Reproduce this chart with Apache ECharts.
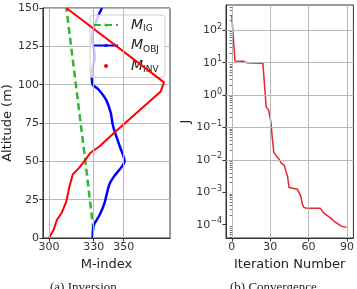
<!DOCTYPE html>
<html>
<head>
<meta charset="utf-8">
<script src="https://cdn.jsdelivr.net/npm/echarts@6/dist/echarts.min.js"></script>
<style>
html, body { margin: 0; padding: 0; background: #fff; }
#main { width: 357px; height: 289px; }
</style>
</head>
<body>
<div id="main"></div>
<script>
// (a) inversion: altitude (m) against M-index
var igAlt = [5, 50, 150];
var igM = [329.8, 324.4, 311.7];

var objAlt = [0, 7.6, 15.2, 22.8, 34.8, 40.2, 46.7, 50, 58.7, 70.6, 75, 81.5, 90.2, 97.2, 100, 105.4, 111.9, 117.4, 122.8, 129.4, 135.9, 144.6, 150];
var objM = [329.3, 329.8, 334, 337.2, 340.4, 343.6, 348.9, 350.6, 347.8, 343.6, 342.5, 341.4, 338.2, 332.9, 329.3, 328.7, 329.3, 330.8, 330.2, 328.7, 329.8, 332.9, 335.5];

var invAlt = [0, 5.4, 11.9, 16.3, 23.9, 33.7, 41.3, 45.7, 51.1, 55.4, 59.8, 68.5, 95.6, 101.5, 150];
var invM = [300, 303.2, 305.4, 308.5, 311.7, 313.8, 315.9, 320.2, 324.5, 327.6, 334, 343.5, 374.8, 377, 311.7];

var mTicks = [300, 330, 350];

// (b) convergence: cost J per iteration
var iterNo = [0, 2.5, 8.9, 11.5, 17, 24.3, 25.2, 26.9, 28.7, 30.3, 30.8, 31.6, 32.2, 32.8, 34.6, 36.6, 38.5, 41, 42.3, 43.5, 44.8, 45.6, 51.2, 52.5, 53.8, 55.1, 56.4, 58.9, 69.2, 70.5, 71.8, 73.1, 76.9, 79.5, 83.3, 85.8, 89.7];
var costJ = [290, 11.2, 11, 10, 9.7, 9.5, 9.8, 0.43, 0.35, 0.17, 0.12, 0.05, 0.03, 0.017, 0.0135, 0.011, 0.0081, 0.0068, 0.0045, 0.0032, 0.0014, 0.00125, 0.00125, 0.0011, 0.00078, 0.00043, 0.00034, 0.00032, 0.00032, 0.0003, 0.00023, 0.0002, 0.000166, 0.000132, 0.000105, 0.000089, 0.000083];

var iterTicks = [0, 30, 60, 90];
var jTicks = [1e-4, 1e-3, 1e-2, 1e-1, 1, 10, 100];

var jMinor = [];
for (var d = -5; d <= 2; d++) {
  for (var k = 2; k <= 9; k++) {
    var v = k * Math.pow(10, d);
    if (v > 3.9e-5 && v < 600) jMinor.push(v);
  }
}

function zip(xs, ys) {
  return xs.map(function (x, i) { return [x, ys[i]]; });
}

var font = 'DejaVu Sans';
var ink = '#333';
var gridColor = '#b8b8b8';

function gridLines(list) {
  return {
    symbol: 'none', silent: true, animation: false,
    label: { show: false },
    emphasis: { disabled: true },
    lineStyle: { color: gridColor, width: 1, type: 'solid' },
    data: list
  };
}

var axisBase = {
  axisLine: { show: true, onZero: false, lineStyle: { color: ink, width: 1 } },
  axisTick: { show: true, inside: false, length: 3.5, lineStyle: { color: ink } },
  axisLabel: { color: ink, fontSize: 11, fontFamily: font, margin: 4 },
  nameTextStyle: { color: '#222', fontSize: 13, fontFamily: font }
};

function axis(extra) {
  var a = JSON.parse(JSON.stringify(axisBase));
  for (var key in extra) {
    if (typeof extra[key] === 'object' && a[key] && !Array.isArray(extra[key])) {
      for (var k2 in extra[key]) a[key][k2] = extra[key][k2];
    } else {
      a[key] = extra[key];
    }
  }
  return a;
}

var chart = echarts.init(document.getElementById('main'));

var option = {
  animation: false,
  backgroundColor: '#fff',
  grid: [
    { left: 37, top: 8, width: 133, height: 230, show: true, borderColor: ink, borderWidth: 1 },
    { left: 226, top: 5, width: 128, height: 233, show: true, borderColor: ink, borderWidth: 1 }
  ],
  xAxis: [
    axis({
      gridIndex: 0, type: 'value', min: 296, max: 381,
      name: 'M-index', nameLocation: 'middle', nameGap: 12,
      axisLabel: { customValues: mTicks },
      axisTick: { customValues: mTicks },
      splitLine: { show: false }
    }),
    axis({
      gridIndex: 1, type: 'value', min: -4.5, max: 95,
      name: 'Iteration Number', nameLocation: 'middle', nameGap: 12,
      axisLabel: { customValues: iterTicks },
      axisTick: { customValues: iterTicks },
      splitLine: { show: false }
    })
  ],
  yAxis: [
    axis({
      gridIndex: 0, type: 'value', min: 0, max: 150, interval: 25,
      name: 'Altitude (m)', nameLocation: 'middle', nameGap: 27,
      splitLine: { show: true, lineStyle: { color: gridColor, width: 1 } }
    }),
    axis({
      gridIndex: 1, type: 'log', logBase: 10, min: 3.9e-5, max: 600,
      name: 'J', nameLocation: 'middle', nameGap: 32,
      axisLabel: {
        customValues: jTicks,
        formatter: function (v) {
          var e = Math.round(Math.log10(v));
          return '{b|10}{e|' + (e < 0 ? '\u2212' + (-e) : e) + '}';
        },
        rich: {
          b: { fontSize: 11, fontFamily: font, color: ink },
          e: { fontSize: 8, fontFamily: font, color: ink, padding: [0, 0, 7, 0] }
        }
      },
      axisTick: { customValues: jTicks },
      splitLine: { show: false }
    }),
    {
      gridIndex: 1, type: 'log', logBase: 10, min: 3.9e-5, max: 600, position: 'left',
      axisLine: { show: false },
      axisLabel: { show: false },
      axisTick: { show: true, length: 2, customValues: jMinor, lineStyle: { color: ink, width: 0.8 } },
      splitLine: { show: false }
    }
  ],
  legend: {
    orient: 'vertical', left: 90, top: 15,
    data: [{ name: 'M_IG' }, { name: 'M_OBJ' }, { name: 'M_INV', icon: 'circle' }],
    itemWidth: 24, itemHeight: 4, itemGap: 5,
    backgroundColor: 'rgba(255,255,255,0.8)',
    borderColor: '#d0d0d0', borderWidth: 1, borderRadius: 3,
    padding: [3, 6, 3, 3],
    formatter: function (n) { return '{m|M}{s|' + n.slice(2) + '}'; },
    textStyle: {
      padding: [0, 0, 0, 8],
      rich: {
        m: { fontSize: 14, fontStyle: 'italic', fontFamily: font, color: '#222' },
        s: { fontSize: 9, fontFamily: font, color: '#222', padding: [8, 0, 0, 0] }
      }
    }
  },
  graphic: [
    { type: 'text', left: 50, top: 281, style: { text: '(a) Inversion', font: '13px "Liberation Serif"', fill: '#222' } },
    { type: 'text', left: 230, top: 281, style: { text: '(b) Convergence', font: '13px "Liberation Serif"', fill: '#222' } }
  ],
  series: [
    {
      type: 'line', xAxisIndex: 0, yAxisIndex: 0, data: [], z: 1,
      markLine: gridLines(mTicks.map(function (v) { return { xAxis: v }; }))
    },
    {
      type: 'line', xAxisIndex: 1, yAxisIndex: 1, data: [], z: 1,
      markLine: gridLines(iterTicks.map(function (v) { return { xAxis: v }; })
        .concat(jTicks.map(function (v) { return { yAxis: v }; })))
    },
    {
      name: 'M_IG', type: 'line', xAxisIndex: 0, yAxisIndex: 0, z: 3,
      data: zip(igM, igAlt), symbol: 'none',
      color: '#2db82d',
      lineStyle: { color: '#2db82d', width: 2.5, type: [7, 4] }
    },
    {
      name: 'M_OBJ', type: 'line', xAxisIndex: 0, yAxisIndex: 0, z: 3,
      data: zip(objM, objAlt), symbol: 'none', smooth: 0.3,
      color: '#0000ff',
      lineStyle: { color: '#0000ff', width: 2.5 }
    },
    {
      name: 'M_INV', type: 'line', xAxisIndex: 0, yAxisIndex: 0, z: 4,
      data: zip(invM, invAlt), symbol: 'none',
      color: '#ff0000',
      lineStyle: { color: '#ff0000', width: 2 }
    },
    {
      name: 'J', type: 'line', xAxisIndex: 1, yAxisIndex: 1, z: 3,
      data: zip(iterNo, costJ), symbol: 'none',
      color: '#e8262b',
      lineStyle: { color: '#e8262b', width: 1.5 }
    }
  ]
};

chart.setOption(option);
</script>
</body>
</html>
